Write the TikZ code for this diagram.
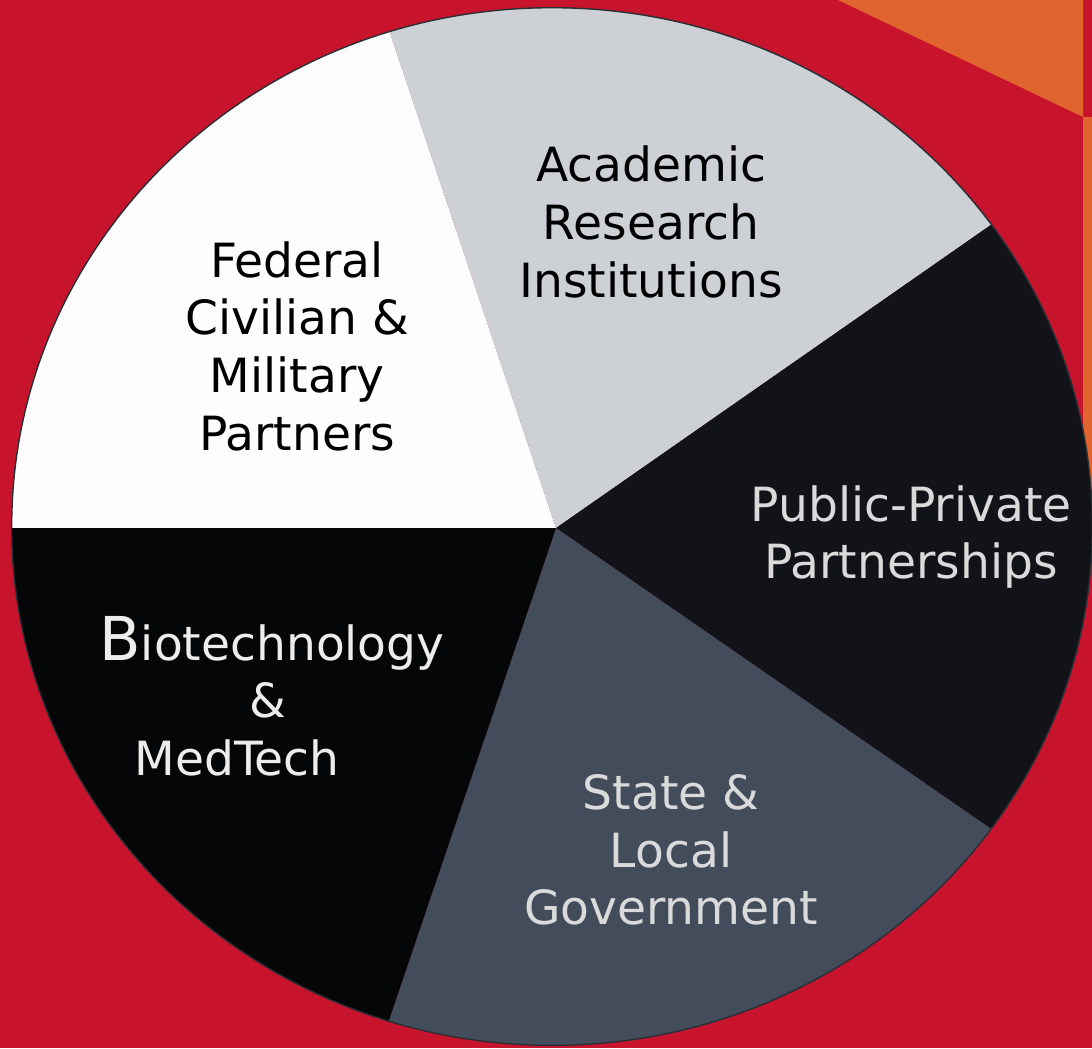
\documentclass[tikz,border=0pt]{standalone}
\usepackage{fontspec}
\setmainfont{DejaVu Sans}
\usetikzlibrary{calc}

\definecolor{bgred}{HTML}{C8132D}
\definecolor{bgorange}{HTML}{E0642E}
\definecolor{segwhite}{HTML}{FDFDFD}
\definecolor{seggray}{HTML}{CDD0D5}
\definecolor{segdark}{HTML}{111318}
\definecolor{segslate}{HTML}{434C5B}
\definecolor{segblack}{HTML}{050608}
\definecolor{rimline}{HTML}{2A2F36}
\definecolor{palelbl}{HTML}{DADADA}

\begin{document}
\begin{tikzpicture}[x=0.01cm, y=-0.01cm,
        lbl/.style={align=center, inner sep=0pt, font=\fontsize{13.4pt}{16.4pt}\selectfont},
        rim/.style={draw=rimline, line width=0.4pt}]
        \useasboundingbox (0,0) rectangle (1092,1048);

        % background
        \fill[bgred] (0,0) rectangle (1092,1048);
        \fill[bgorange] (838,0) -- (1083,117) -- (1083,0) -- cycle;
        \fill[bgorange] (1083,117) rectangle (1092,540);

        % centre of the pie and far ends of the cuts
        \coordinate (o) at (556,528);
        \coordinate (cutW) at (-300,528);
        \coordinate (cutNW) at (224,-462);
        \coordinate (cutNE) at (1434,-84);
        \coordinate (cutSE) at (1438,1138);
        \coordinate (cutS) at (220,1518);

        \begin{scope}
            \clip (552,526.5) ellipse [x radius=5.40cm, y radius=5.185cm];
            \fill[segwhite] (o) -- (cutW) -- (-300,-470) -- (cutNW) -- cycle;
            \fill[seggray] (o) -- (cutNW) -- (1434,-470) -- (cutNE) -- cycle;
            \fill[segdark] (o) -- (cutNE) -- (cutSE) -- cycle;
            \fill[segslate] (o) -- (cutSE) -- (cutS) -- cycle;
            \fill[segblack] (o) -- (cutS) -- (-300,1518) -- (cutW) -- cycle;
        \end{scope}
        \draw[rim] (552,526.5) ellipse [x radius=5.40cm, y radius=5.185cm];

        \node[lbl, text=black] (federal) at (297,346) {Federal\\Civilian \&\\Military\\Partners};
        \node[lbl, text=black] (academic) at (651,222) {Academic\\Research\\Institutions};
        \node[lbl, text=palelbl] (ppp) at (911,537) {Public-Private\\Partnerships};
        \node[lbl, text=palelbl] (state) at (671,850) {State \&\\Local\\Government};
        \node[lbl, text=white!93!black] (biotech) at (272,696)
            {{\fontsize{17.2pt}{16.4pt}\selectfont B}iotechnology\\\&\hspace*{0.08cm}\mbox{}\\MedTech\hspace*{0.70cm}\mbox{}};
    \end{tikzpicture}
\end{document}
